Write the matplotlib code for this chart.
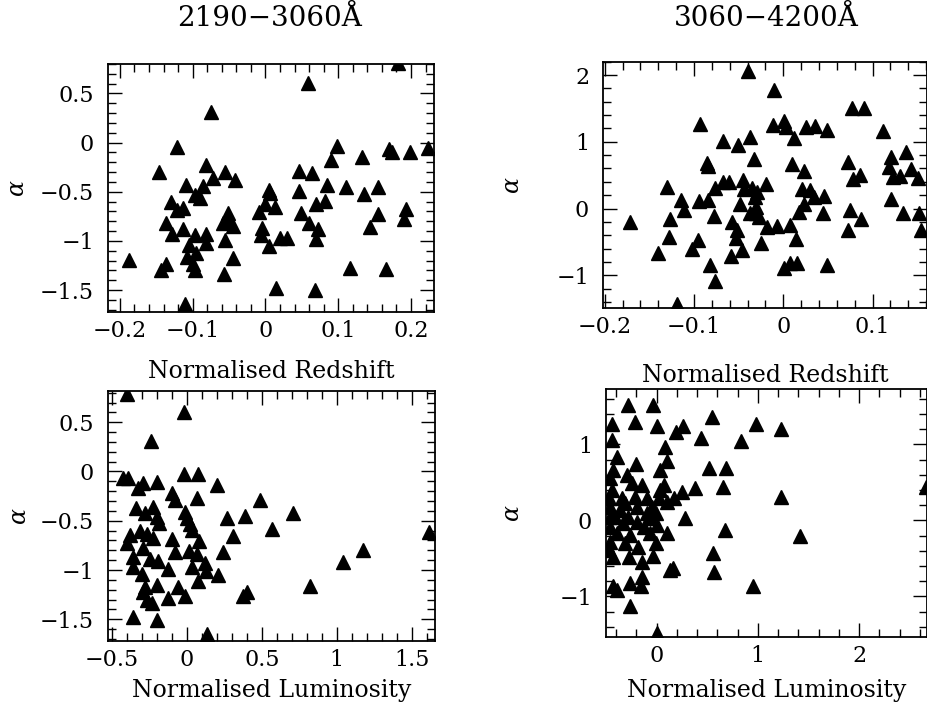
import matplotlib
matplotlib.use("Agg")
import matplotlib.pyplot as plt
from matplotlib.ticker import MultipleLocator, FuncFormatter

plt.rcParams['font.family'] = ['DejaVu Serif']
plt.rcParams['mathtext.fontset'] = 'dejavuserif'

# 2190-3060A, alpha vs normalised redshift
z_blue = [0.182, 0.059, -0.075, -0.121, 0.098, 0.170, 0.174, 0.199, 0.223, 0.090,
          0.133, -0.146, -0.081, -0.055, -0.042, -0.072, 0.046, 0.064, -0.109, -0.086,
          -0.097, -0.090, 0.005, 0.006, 0.046, 0.085, 0.111, 0.136, 0.154, -0.130,
          -0.121, -0.113, 0.000, 0.013, -0.009, -0.052, 0.049, 0.070, 0.082, 0.193,
          0.191, 0.154, 0.143, -0.136, -0.113, -0.128, -0.059, -0.045, -0.051, 0.060,
          0.072, 0.069, -0.005, -0.006, 0.005, 0.020, 0.029, -0.097, -0.082, -0.082,
          -0.105, -0.095, -0.108, -0.100, -0.097, -0.056, -0.045, -0.057, -0.187, -0.143,
          -0.136, 0.116, 0.165, 0.014, 0.068, -0.110]
alpha_blue_z = [0.805, 0.606, 0.315, -0.040, -0.037, -0.064, -0.098, -0.091, -0.054, -0.176,
                -0.142, -0.301, -0.223, -0.301, -0.379, -0.362, -0.284, -0.311, -0.426, -0.437,
                -0.528, -0.562, -0.480, -0.514, -0.487, -0.430, -0.454, -0.521, -0.447, -0.606,
                -0.690, -0.667, -0.623, -0.657, -0.708, -0.714, -0.714, -0.629, -0.596, -0.673,
                -0.775, -0.724, -0.860, -0.819, -0.876, -0.934, -0.819, -0.843, -0.785, -0.815,
                -0.883, -0.985, -0.870, -0.937, -1.056, -0.968, -0.968, -0.944, -0.934, -1.018,
                -1.046, -1.120, -1.164, -1.232, -1.300, -0.995, -1.171, -1.340, -1.198, -1.293,
                -1.239, -1.272, -1.283, -1.475, -1.496, -1.645]

# 3060-4200A, alpha vs normalised redshift
z_red = [-0.040, -0.010, 0.077, 0.090, -0.093, -0.012, 0.001, 0.003, 0.025, 0.036,
         0.049, 0.112, -0.067, -0.051, -0.037, 0.012, -0.086, -0.084, -0.033, 0.010,
         0.023, 0.072, 0.078, 0.086, 0.121, 0.118, 0.137, 0.123, 0.131, 0.143,
         0.151, 0.121, 0.134, 0.152, 0.154, -0.130, -0.115, -0.111, -0.095, -0.084,
         -0.077, -0.068, -0.061, -0.045, -0.044, -0.035, -0.032, -0.019, -0.029, -0.048,
         -0.031, -0.031, -0.037, -0.027, -0.127, -0.078, -0.172, -0.058, -0.052, -0.053,
         -0.046, -0.059, -0.025, -0.018, -0.007, 0.008, 0.014, 0.018, 0.023, 0.021,
         0.030, 0.034, 0.046, 0.044, 0.075, 0.087, 0.072, 0.049, 0.001, 0.008,
         0.015, -0.096, -0.102, -0.128, -0.140, -0.082, -0.077, -0.119]
alpha_red_z = [2.065, 1.768, 1.510, 1.500, 1.272, 1.253, 1.312, 1.223, 1.223, 1.238,
               1.174, 1.163, 1.015, 0.955, 1.074, 1.055, 0.684, 0.643, 0.743, 0.669,
               0.559, 0.692, 0.446, 0.495, 0.777, 0.618, 0.841, 0.470, 0.480, 0.594,
               0.460, 0.149, -0.074, -0.074, -0.322, 0.321, 0.123, -0.025, 0.113, 0.134,
               0.312, 0.395, 0.395, 0.420, 0.297, 0.312, 0.172, 0.371, 0.247, 0.064,
               0.024, -0.074, -0.074, -0.125, -0.163, -0.114, -0.199, -0.199, -0.322, -0.446,
               -0.620, -0.709, -0.520, -0.273, -0.263, -0.248, -0.461, -0.050, 0.074, 0.297,
               0.272, 0.172, 0.183, -0.074, -0.015, -0.163, -0.322, -0.842, -0.892, -0.817,
               -0.817, -0.471, -0.609, -0.431, -0.669, -0.842, -1.090, -1.437]

# 2190-3060A, alpha vs normalised luminosity
lum_blue = [-0.396, -0.018, -0.240, -0.423, -0.389, -0.293, -0.196, -0.323, -0.018, 0.073,
            0.200, -0.100, -0.078, 0.067, 0.489, -0.338, -0.223, -0.278, -0.200, -0.182,
            -0.011, 0.000, 0.267, 0.389, 0.707, 0.022, 0.033, 0.567, 0.311, -0.378,
            -0.311, -0.267, -0.223, -0.400, -0.100, 0.084, -0.289, -0.078, 0.018, 0.067,
            0.244, -0.356, -0.245, -0.189, -0.356, -0.122, 0.033, 0.122, 0.129, -0.300,
            0.211, 0.073, -0.196, -0.278, -0.060, -0.011, 0.400, 0.373, -0.122, -0.289,
            -0.267, -0.233, 0.822, 1.040, 1.173, 1.618, -0.360, -0.200, 0.138]
alpha_blue_l = [0.785, 0.606, 0.312, -0.069, -0.069, -0.113, -0.103, -0.170, -0.025, -0.025,
                -0.137, -0.215, -0.289, -0.272, -0.289, -0.373, -0.357, -0.424, -0.458, -0.519,
                -0.407, -0.475, -0.475, -0.451, -0.417, -0.532, -0.593, -0.586, -0.650, -0.643,
                -0.600, -0.633, -0.677, -0.728, -0.687, -0.701, -0.778, -0.813, -0.802, -0.836,
                -0.813, -0.870, -0.890, -0.904, -0.965, -0.991, -0.965, -0.930, -1.005, -1.039,
                -1.049, -1.116, -1.150, -1.173, -1.173, -1.261, -1.218, -1.268, -1.285, -1.228,
                -1.302, -1.336, -1.167, -0.914, -0.795, -0.610, -1.477, -1.512, -1.646]

# 3060-4200A, alpha vs normalised luminosity
lum_red = [-0.281, -0.034, -0.445, -0.214, 0.006, 0.191, 0.263, 0.543, 0.981, 1.225,
           0.435, 0.830, -0.445, 0.082, -0.389, -0.205, 0.099, 0.033, -0.429, 0.520,
           0.685, -0.461, -0.296, -0.247, -0.148, 0.075, 0.247, 0.378, 0.652, 1.225,
           2.660, -0.445, -0.346, -0.214, -0.099, 0.026, 0.171, 0.099, -0.461, -0.198,
           -0.049, -0.412, -0.280, -0.099, -0.007, 0.280, -0.461, -0.330, -0.125, 0.006,
           -0.395, -0.264, -0.066, 0.105, 0.675, 1.416, -0.461, -0.313, -0.182, -0.007,
           -0.429, -0.271, -0.148, -0.034, 0.559, 0.131, 0.164, 0.566, -0.148, -0.264,
           -0.158, -0.435, -0.395, 0.955, -0.264, 0.006,
           -0.461, -0.468, -0.468, -0.363, -0.313, -0.198, -0.066, 0.033]
alpha_red_l = [1.520, 1.520, 1.270, 1.300, 1.243, 1.168, 1.243, 1.358, 1.270, 1.200,
               1.081, 1.050, 1.059, 0.971, 0.831, 0.743, 0.787, 0.664, 0.664, 0.687,
               0.695, 0.555, 0.599, 0.489, 0.467, 0.467, 0.379, 0.424, 0.445, 0.313,
               0.437, 0.401, 0.292, 0.313, 0.292, 0.292, 0.292, 0.247, 0.182, 0.182,
               0.182, 0.050, 0.050, 0.095, 0.095, 0.029, -0.081, -0.037, -0.081, -0.059,
               -0.169, -0.191, -0.169, -0.169, -0.125, -0.200, -0.279, -0.300, -0.344, -0.300,
               -0.476, -0.485, -0.542, -0.467, -0.432, -0.651, -0.629, -0.673, -0.739, -0.818,
               -0.862, -0.862, -0.914, -0.862, -1.125, -1.476,
               0.050, 0.292, -0.388, 0.138, 0.226, -0.015, 0.029, 0.401]

titles = ['2190\u22123060\u00c5', '3060\u22124200\u00c5']


def fmt(v, pos):
    s = f'{v:g}'
    if s in ('-0', '0'):
        return '0'
    return s.replace('-', '\u2212')


def setupAxes(ax, xlim, ylim, xmaj, xmin, ymaj, ymin, xlabel, ylab_x, xlab_y):
    ax.set_xlim(*xlim)
    ax.set_ylim(*ylim)
    ax.xaxis.set_major_locator(MultipleLocator(xmaj))
    ax.xaxis.set_minor_locator(MultipleLocator(xmin))
    ax.yaxis.set_major_locator(MultipleLocator(ymaj))
    ax.yaxis.set_minor_locator(MultipleLocator(ymin))
    ax.xaxis.set_major_formatter(FuncFormatter(fmt))
    ax.yaxis.set_major_formatter(FuncFormatter(fmt))
    ax.tick_params(which='both', direction='in', top=True, right=True,
                   labelsize=16, width=1.0)
    ax.tick_params(which='major', length=10)
    ax.tick_params(which='minor', length=5.5)
    ax.tick_params(axis='x', pad=6)
    ax.tick_params(axis='y', pad=10)
    for sp in ax.spines.values():
        sp.set_linewidth(1.3)
    ax.set_xlabel(xlabel, fontsize=17, va='baseline')
    ax.xaxis.set_label_coords(0.5, xlab_y)
    ax.set_ylabel(r'$\alpha$', fontsize=17, va='center')
    ax.yaxis.set_label_coords(ylab_x, 0.5)


fig = plt.figure(figsize=(9.28, 7.07), dpi=100)
ax1 = fig.add_axes([0.1164, 0.5591, 0.3513, 0.3504])
ax2 = fig.add_axes([0.6498, 0.5644, 0.3491, 0.3484])
ax3 = fig.add_axes([0.1164, 0.0934, 0.3524, 0.3540])
ax4 = fig.add_axes([0.6530, 0.0995, 0.3459, 0.3503])

mk = dict(marker='^', linestyle='none', color='black', markersize=10.5)
ax1.plot(z_blue, alpha_blue_z, **mk)
ax2.plot(z_red, alpha_red_z, **mk)
ax3.plot(lum_blue, alpha_blue_l, **mk)
ax4.plot(lum_red, alpha_red_l, **mk)

setupAxes(ax1, (-0.2163, 0.2316), (-1.72, 0.80), 0.1, 0.02, 0.5, 0.1,
          'Normalised Redshift', -0.279, -0.266)
setupAxes(ax2, (-0.202, 0.161), (-1.49, 2.20), 0.1, 0.02, 1, 0.2,
          'Normalised Redshift', -0.278, -0.30)
setupAxes(ax3, (-0.525, 1.655), (-1.72, 0.82), 0.5, 0.1, 0.5, 0.1,
          'Normalised Luminosity', -0.27, -0.224)
setupAxes(ax4, (-0.5, 2.67), (-1.53, 1.73), 1, 0.2, 1, 0.2,
          'Normalised Luminosity', -0.29, -0.243)

# panel titles sit at the same height above both top panels
fig.text(0.291, 0.974, titles[0], ha='center', va='center', fontsize=20)
fig.text(0.826, 0.974, titles[1], ha='center', va='center', fontsize=20)

fig.savefig('out.png', dpi=100, facecolor='white')
